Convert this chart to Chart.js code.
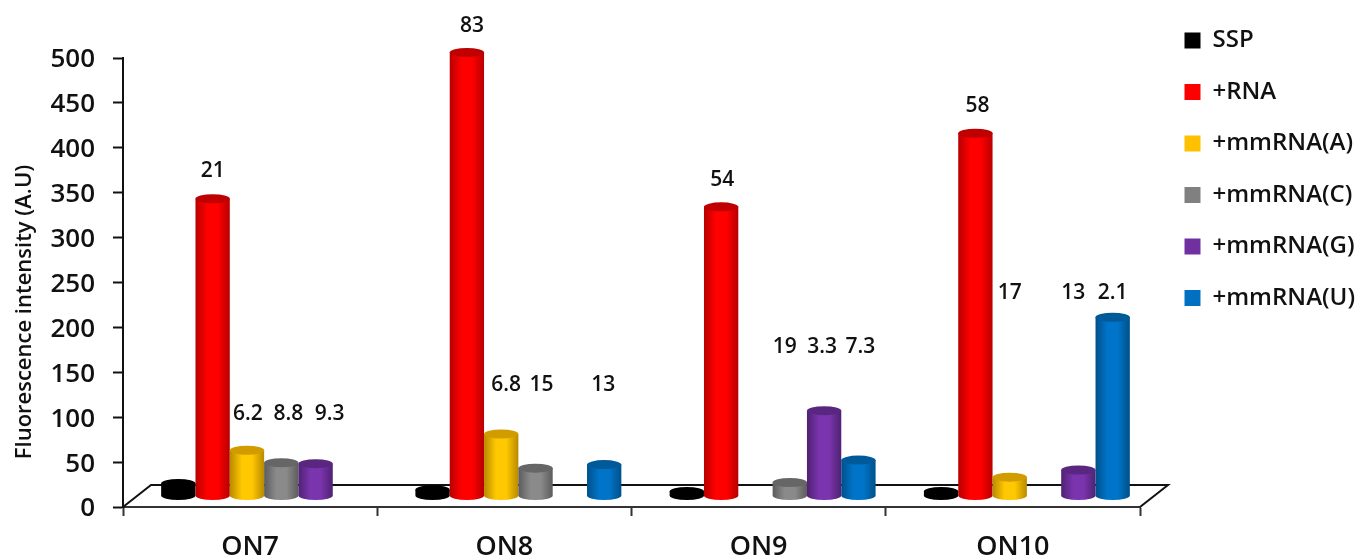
<!DOCTYPE html>
<html>
<head>
<meta charset="utf-8">
<title>Fluorescence intensity</title>
<script src="https://cdn.jsdelivr.net/npm/chart.js@4/dist/chart.umd.min.js"></script>
<style>
    html, body { margin: 0; padding: 0; background: #fff; }
    canvas { display: block; }
</style>
</head>
<body>
<canvas id="fluorChart" width="1358" height="559"></canvas>
<script>
const categories = ['ON7', 'ON8', 'ON9', 'ON10'];
const yTicks = [0, 50, 100, 150, 200, 250, 300, 350, 400, 450, 500];

const sspValues = [14, 7, 5, 5];
const rnaValues = [331, 494, 322, 404];
const mmAValues = [51, 69, null, 21];
const mmCValues = [37, 31, 15, null];
const mmGValues = [36, null, 95, 29];
const mmUValues = [null, 35, 40, 199];

// Numbers printed over the bars
const rnaNotes = ['21', '83', '54', '58'];
const mmANotes = ['6.2', '6.8', null, '17'];
const mmCNotes = ['8.8', '15', '19', null];
const mmGNotes = ['9.3', null, '3.3', '13'];
const mmUNotes = [null, '13', '7.3', '2.1'];

const FONT = '"Open Sans", sans-serif';

// Depth of the floor, bars stand a bit behind the front edge
const DEPTH_X = 14;
const DEPTH_Y = -11;
const CAP_RY = 4.5;

// Axis height the notes are printed at, per group
const rnaNoteLevel = [374, 536, 364, 447];
const smallNoteLevel = [104, 136, 178, 238];
const noteNudge = [
    [0, 0, 1, 7, 14, 0],
    [0, 5, 5, 6, 0, -1],
    [0, 1, 0, -5, -2, 2],
    [0, 2, 0, 0, -5, 0]
];

const shades = {
    '#000000': { edge: '#000000', mid: '#000000', cap: '#000000' },
    '#ff0000': { edge: '#b80000', mid: '#ff0000', cap: '#c00000' },
    '#ffc000': { edge: '#b88a00', mid: '#ffc800', cap: '#d09c00' },
    '#808080': { edge: '#5c5c5c', mid: '#8a8a8a', cap: '#666666' },
    '#7030a0': { edge: '#4f2272', mid: '#7a34ae', cap: '#592680' },
    '#0070c0': { edge: '#00508a', mid: '#0074c8', cap: '#005a9a' }
};

function drawCylinder(ctx, x, top, bottom, rx, color) {
    const tone = shades[color];
    const grad = ctx.createLinearGradient(x - rx, 0, x + rx, 0);
    grad.addColorStop(0, tone.edge);
    grad.addColorStop(0.35, tone.mid);
    grad.addColorStop(0.65, tone.mid);
    grad.addColorStop(1, tone.edge);

    ctx.fillStyle = grad;
    ctx.beginPath();
    ctx.moveTo(x - rx, top);
    ctx.lineTo(x - rx, bottom);
    ctx.ellipse(x, bottom, rx, CAP_RY, 0, Math.PI, 0, true);
    ctx.lineTo(x + rx, top);
    ctx.closePath();
    ctx.fill();

    ctx.fillStyle = tone.cap;
    ctx.beginPath();
    ctx.ellipse(x, top, rx, CAP_RY, 0, 0, Math.PI * 2);
    ctx.fill();
}

const cylinderBars = {
    id: 'cylinderBars',
    afterLayout(chart) {
        const legend = chart.legend;
        legend.left = 1157;
        legend.right = 1358;
        legend.top = 1;
        legend.bottom = 345;
    },
    beforeDatasetsDraw(chart) {
        const ctx = chart.ctx;
        const y = chart.scales.y;
        const area = chart.chartArea;
        const front = y.getPixelForValue(0);
        const back = front - 22;

        // floor outline
        ctx.save();
        ctx.strokeStyle = '#111';
        ctx.lineWidth = 2;
        ctx.beginPath();
        ctx.moveTo(area.left, front);
        ctx.lineTo(area.left + 28, back);
        ctx.lineTo(area.right + 28, back);
        ctx.lineTo(area.right, front);
        ctx.stroke();
        ctx.restore();

        chart.data.datasets.forEach((ds, i) => {
            chart.getDatasetMeta(i).data.forEach((bar, j) => {
                if (ds.data[j] === null) return;
                const x = bar.x + DEPTH_X;
                drawCylinder(ctx, x, bar.y + DEPTH_Y, bar.base + DEPTH_Y, bar.width / 2, ds.backgroundColor);
            });
        });
        return false;
    },
    afterDraw(chart) {
        const ctx = chart.ctx;
        const y = chart.scales.y;

        ctx.save();
        ctx.fillStyle = '#111';
        ctx.textAlign = 'center';
        ctx.textBaseline = 'middle';
        ctx.font = '600 21px ' + FONT;
        chart.data.datasets.forEach((ds, i) => {
            if (!ds.notes) return;
            chart.getDatasetMeta(i).data.forEach((bar, j) => {
                if (!ds.notes[j]) return;
                const level = i === 1 ? rnaNoteLevel[j] : smallNoteLevel[j];
                ctx.fillText(ds.notes[j], bar.x + DEPTH_X + noteNudge[j][i], y.getPixelForValue(level));
            });
        });

        // y axis title
        ctx.translate(25, 312);
        ctx.rotate(-Math.PI / 2);
        ctx.font = '600 22px ' + FONT;
        ctx.fillText('Fluorescence intensity (A.U)', 0, 0);
        ctx.restore();
    }
};

new Chart(document.getElementById('fluorChart'), {
    type: 'bar',
    data: {
        labels: categories,
        datasets: [
            { label: 'SSP', data: sspValues, backgroundColor: '#000000' },
            { label: '+RNA', data: rnaValues, backgroundColor: '#ff0000', notes: rnaNotes },
            { label: '+mmRNA(A)', data: mmAValues, backgroundColor: '#ffc000', notes: mmANotes },
            { label: '+mmRNA(C)', data: mmCValues, backgroundColor: '#808080', notes: mmCNotes },
            { label: '+mmRNA(G)', data: mmGValues, backgroundColor: '#7030a0', notes: mmGNotes },
            { label: '+mmRNA(U)', data: mmUValues, backgroundColor: '#0070c0', notes: mmUNotes }
        ]
    },
    options: {
        responsive: false,
        animation: false,
        layout: { padding: { top: 58, right: 218, left: 0, bottom: 0 } },
        datasets: { bar: { categoryPercentage: 0.81, barPercentage: 1 } },
        scales: {
            x: {
                afterFit: scale => { scale.height = 52; },
                border: { color: '#333', width: 2 },
                grid: { offset: true, drawOnChartArea: false, tickLength: 9, tickColor: '#333', tickWidth: 2 },
                ticks: { color: '#111', padding: 15, font: { family: FONT, size: 27, weight: '600' } }
            },
            y: {
                min: 0,
                max: 500,
                afterFit: scale => { scale.width = 123; },
                afterBuildTicks: scale => { scale.ticks = yTicks.map(value => ({ value })); },
                border: { color: '#111', width: 2 },
                grid: { drawOnChartArea: false, tickLength: 10, tickColor: '#111', tickWidth: 2 },
                ticks: { color: '#111', padding: 18, labelOffset: 2, font: { family: FONT, size: 26, weight: '600' } }
            }
        },
        plugins: {
            tooltip: { enabled: false },
            legend: {
                position: 'chartArea',
                align: 'start',
                labels: {
                    boxWidth: 16,
                    boxHeight: 16,
                    padding: 27.5,
                    color: '#111',
                    font: { family: FONT, size: 24, weight: '600' }
                }
            }
        }
    },
    plugins: [cylinderBars]
});
</script>
</body>
</html>
